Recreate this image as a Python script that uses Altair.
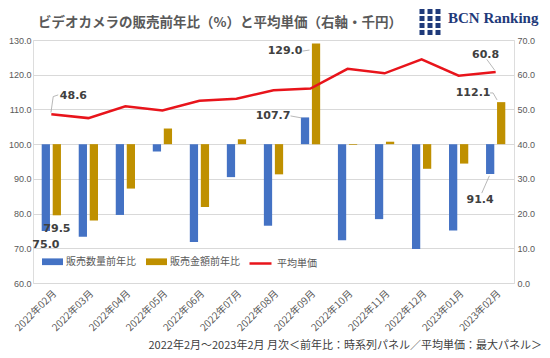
import altair as alt
import pandas as pd

# ---- data ----
months = ["2022年02月", "2022年03月", "2022年04月", "2022年05月", "2022年06月",
          "2022年07月", "2022年08月", "2022年09月", "2022年10月", "2022年11月",
          "2022年12月", "2023年01月", "2023年02月"]
qty = [75.0, 73.3, 79.6, 97.9, 71.8, 90.5, 76.5, 107.7, 72.3, 78.4, 69.8, 75.1, 91.4]
amt = [79.5, 78.0, 87.2, 104.5, 81.9, 101.4, 91.3, 129.0, 99.8, 100.7, 92.9, 94.4, 112.1]
price = [48.6, 47.5, 50.9, 49.7, 52.5, 53.1, 55.5, 56.0, 61.7, 60.4, 64.4, 59.7, 60.8]
series_names = ["販売数量前年比", "販売金額前年比", "平均単価"]
colors = ["#4472C4", "#BF9000", "#E8141B"]
left_ticks = [60, 70, 80, 90, 100, 110, 120, 130]
right_ticks = [0, 10, 20, 30, 40, 50, 60, 70]
title_text = "ビデオカメラの販売前年比（%）と平均単価（右軸・千円）"
footer_text = "2022年2月～2023年2月 月次＜前年比：時系列パネル／平均単価：最大パネル＞"
logo_text = "BCN Ranking"

# labelled bars: month, series index, pixel offsets of label
bar_lab_month = ["2022年02月", "2022年02月", "2022年09月", "2022年09月", "2023年02月", "2023年02月"]
bar_lab_series = [0, 1, 0, 1, 1, 0]
bar_lab_dx = [-5.4, 5.6, -37.5, -25.5, -22.6, -15.6]
bar_lab_dy = [14.4, 13.4, -1.5, 7.3, -8.9, 26.5]

# leader lines for bar labels (id, month, series index, pixel offsets)
lead_id = ["a", "a", "b", "b", "c", "c", "c", "d", "d"]
lead_month = ["2022年09月", "2022年09月", "2022年09月", "2022年09月",
              "2023年02月", "2023年02月", "2023年02月", "2023年02月", "2023年02月"]
lead_series = [0, 0, 1, 1, 1, 1, 1, 0, 0]
lead_dx = [-20, -9, -8, -1, -5.6, -2.6, 1.4, -6.3, -13.9]
lead_dy = [-1.5, 0.5, 7.6, 6.6, -9.2, -9.2, -2.2, 1.8, 19.1]

# line labels
line_lab_month = ["2022年02月", "2023年02月"]
line_lab_dx = [22.1, -10.1]
line_lab_dy = [-18.7, -16.9]
line_lead_id = ["p", "p", "p", "q", "q"]
line_lead_month = ["2022年02月", "2022年02月", "2022年02月", "2023年02月", "2023年02月"]
line_lead_dx = [-0.4, 1.9, 6.9, -8.9, -1.1]
line_lead_dy = [-1.7, -17.7, -19.4, -12.6, -1.9]

# ---- tables ----
bars_df = pd.DataFrame({
    "month": months * 2,
    "series": [series_names[0]] * len(months) + [series_names[1]] * len(months),
    "value": qty + amt,
    "base": 100,
})
vals = {series_names[0]: dict(zip(months, qty)), series_names[1]: dict(zip(months, amt))}
bar_lab_df = pd.DataFrame({
    "month": bar_lab_month,
    "value": [vals[series_names[s]][m] for m, s in zip(bar_lab_month, bar_lab_series)],
    "dx": bar_lab_dx, "dy": bar_lab_dy,
})
lead_df = pd.DataFrame({
    "id": lead_id, "seq": list(range(len(lead_id))), "month": lead_month,
    "value": [vals[series_names[s]][m] for m, s in zip(lead_month, lead_series)],
    "dx": lead_dx, "dy": lead_dy,
})
pmap = dict(zip(months, price))
line_df = pd.DataFrame({"month": months, "price": price, "series": series_names[2]})
line_lab_df = pd.DataFrame({"month": line_lab_month, "price": [pmap[m] for m in line_lab_month],
                            "dx": line_lab_dx, "dy": line_lab_dy})
line_lead_df = pd.DataFrame({"id": line_lead_id, "seq": list(range(len(line_lead_id))),
                             "month": line_lead_month, "price": [pmap[m] for m in line_lead_month],
                             "dx": line_lead_dx, "dy": line_lead_dy})

GRAY = "#595959"
JP = "Noto Sans CJK JP"
NUM = "Liberation Sans"
NAVY = "#1F3A7A"

x_shared = alt.X("month:N", sort=months, title=None,
                 scale=alt.Scale(domain=months, paddingInner=0.48, paddingOuter=0.235),
                 axis=alt.Axis(labelAngle=-45, ticks=False, domain=False, labelPadding=5,
                               labelFontSize=10, labelColor=GRAY, labelFont=JP, grid=False))
x_plain = alt.X("month:N", sort=months, title=None)

bars = alt.Chart(bars_df).mark_bar().encode(
    x=x_shared,
    xOffset=alt.XOffset("series:N", sort=series_names[:2],
                        scale=alt.Scale(domain=series_names[:2], paddingInner=0.25, paddingOuter=0)),
    y=alt.Y("value:Q", title=None,
            scale=alt.Scale(domain=[60, 130], nice=False, zero=False),
            axis=alt.Axis(values=left_ticks, tickCount=20, format=".1f", ticks=False,
                          domain=False, grid=True, gridColor="#D9D9D9", labelPadding=2,
                          labelFontSize=9, labelColor=GRAY, labelFont=NUM, labelOverlap=False)),
    y2=alt.Y2("base"),
    color=alt.Color("series:N", scale=alt.Scale(domain=series_names[:2], range=colors[:2]),
                    legend=alt.Legend(title=None, orient="none", legendX=9, legendY=211,
                                      direction="horizontal",
                                      symbolType="M-1,-0.32H1V0.32H-1Z", symbolSize=441,
                                      symbolStrokeWidth=0, labelFontSize=10, labelFont=JP,
                                      labelColor=GRAY, columnPadding=10, labelOffset=3)),
)

label_style = dict(font="DejaVu Sans", fontWeight="bold", fontSize=11, color="#404040",
                   align="center", baseline="middle",
                   dx={"expr": "datum.dx"}, dy={"expr": "datum.dy"})

bar_labels = alt.Chart(bar_lab_df).mark_text(**label_style).encode(
    x=x_plain, y=alt.Y("value:Q"), text=alt.Text("value:Q", format=".1f"))

bar_leaders = alt.Chart(lead_df).mark_line(
    color="#A6A6A6", strokeWidth=0.8,
    xOffset={"expr": "datum.dx"}, yOffset={"expr": "datum.dy"}).encode(
    x=x_plain, y=alt.Y("value:Q"), detail="id:N", order="seq:Q")

one = pd.DataFrame({"t": [title_text], "f": [footer_text], "l": [logo_text]})

title = alt.Chart(one).mark_text(
    align="left", baseline="middle", fontSize=13.5, font=JP, fontWeight="bold",
    color=GRAY).encode(x=alt.value(5), y=alt.value(-17), text="t:N")

footer = alt.Chart(one).mark_text(
    align="right", baseline="alphabetic", fontSize=11, font=JP, color="#404040").encode(
    x=alt.value(509), y=alt.value(309), text="f:N")

logo = alt.Chart(one).mark_text(
    align="left", baseline="middle", fontSize=15, font="Liberation Serif", fontWeight="bold",
    color=NAVY).encode(x=alt.value(415), y=alt.value(-22), text="l:N")

# logo icon: three dashed columns of squares
logo_cols = []
for cx, ytop in [(389, -31), (397, -38), (405, -31)]:
    logo_cols.append(alt.Chart(one).mark_rule(
        color=NAVY, strokeWidth=5, strokeDash=[5, 2]).encode(
        x=alt.value(cx), y=alt.value(ytop), y2=alt.value(-5)))

left = alt.layer(bars, bar_leaders, bar_labels, title, footer, logo, *logo_cols)

line = alt.Chart(line_df).mark_line(strokeWidth=2.5).encode(
    x=x_plain,
    y=alt.Y("price:Q", title=None, scale=alt.Scale(domain=[0, 70], nice=False),
            axis=alt.Axis(orient="right", values=right_ticks, tickCount=20, format=".1f",
                          ticks=False, domain=False, grid=False, labelPadding=3,
                          labelFontSize=9, labelColor=GRAY, labelFont=NUM, labelOverlap=False)),
    stroke=alt.Stroke("series:N", scale=alt.Scale(domain=[series_names[2]], range=[colors[2]]),
                      legend=alt.Legend(title=None, orient="none", legendX=215, legendY=211,
                                        direction="horizontal", symbolType="stroke",
                                        symbolSize=484, symbolStrokeWidth=2.5,
                                        labelFontSize=10, labelFont=JP, labelColor=GRAY,
                                        labelOffset=4)),
)

line_leaders = alt.Chart(line_lead_df).mark_line(
    color="#A6A6A6", strokeWidth=0.8,
    xOffset={"expr": "datum.dx"}, yOffset={"expr": "datum.dy"}).encode(
    x=x_plain, y=alt.Y("price:Q"), detail="id:N", order="seq:Q")

line_labels = alt.Chart(line_lab_df).mark_text(**label_style).encode(
    x=x_plain, y=alt.Y("price:Q"), text=alt.Text("price:Q", format=".1f"))

right = alt.layer(line, line_leaders, line_labels)

chart = alt.layer(left, right).resolve_scale(y="independent").properties(
    width=481, height=243,
    autosize=alt.AutoSizeParams(type="none"),
    padding={"left": 25, "top": 32, "right": 28, "bottom": 70},
).configure_view(stroke=None).configure(background="white")

chart.save("out.html", embed_options={"renderer": "svg", "actions": False})
